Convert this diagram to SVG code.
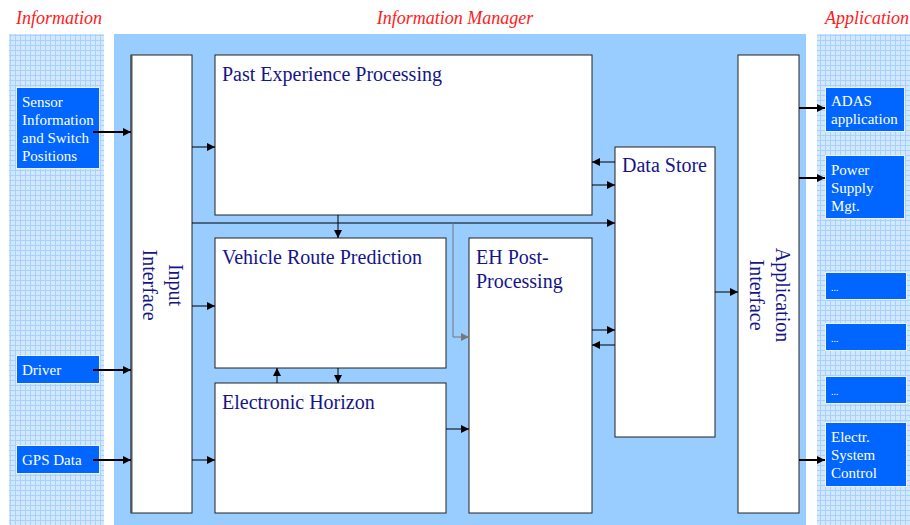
<svg xmlns="http://www.w3.org/2000/svg" width="910" height="525" viewBox="0 0 910 525">
<defs>
<pattern id="grid" width="5" height="5" patternUnits="userSpaceOnUse">
<rect width="5" height="5" fill="#d2e8ff"/>
<path d="M0 0.5H5M0.5 0V5" stroke="#a9d1ff" stroke-width="1" fill="none"/>
</pattern>
<marker id="ah" viewBox="0 0 10 10" refX="10" refY="5" markerWidth="8" markerHeight="8" markerUnits="userSpaceOnUse" orient="auto">
<path d="M0 0L10 5L0 10Z" fill="#000"/>
</marker>
<marker id="ahg" viewBox="0 0 10 10" refX="10" refY="5" markerWidth="8" markerHeight="8" markerUnits="userSpaceOnUse" orient="auto">
<path d="M0 0L10 5L0 10Z" fill="#777"/>
</marker>
</defs>
<style>
.title{font-family:"Liberation Serif",serif;font-style:italic;font-size:18px;fill:#ff1a1a}
.box{fill:#fff;stroke:#222;stroke-width:1}
.lbl{font-family:"Liberation Serif",serif;font-size:20px;fill:#15158a}
.src{fill:#0066ff;stroke:#eaf3ff;stroke-width:1}
.srct{font-family:"Liberation Serif",serif;font-size:15px;fill:#fff}
.dots{font-family:"Liberation Serif",serif;font-size:10px;fill:#fff}
.c{stroke:#000;stroke-width:1;fill:none;marker-end:url(#ah)}
.ct{stroke:#000;stroke-width:2;fill:none;marker-end:url(#ah)}
</style>
<rect width="910" height="525" fill="#fff"/>
<rect x="9" y="34" width="95" height="491" fill="url(#grid)"/>
<rect x="817" y="34" width="93" height="491" fill="url(#grid)"/>
<rect x="114" y="34" width="692" height="491" fill="#99ccff"/>
<text class="title" x="16" y="24">Information</text>
<text class="title" x="455" y="24" text-anchor="middle">Information Manager</text>
<text class="title" x="909" y="24" text-anchor="end">Application</text>

<g id="input-interface">
<rect class="box" x="131" y="55" width="61" height="458"/>
<line x1="131.5" y1="55" x2="131.5" y2="513" stroke="#555" stroke-width="2"/>
<text class="lbl" transform="translate(156 285) rotate(90)" text-anchor="middle"><tspan x="0" y="-13">Input</tspan><tspan x="0" y="13">Interface</tspan></text>
</g>
<g id="past-experience">
<rect class="box" x="215" y="55" width="377" height="160"/>
<text class="lbl" x="222" y="81">Past Experience Processing</text>
</g>
<g id="vehicle-route">
<rect class="box" x="215" y="238" width="231" height="130"/>
<text class="lbl" x="222" y="264">Vehicle Route Prediction</text>
</g>
<g id="electronic-horizon">
<rect class="box" x="215" y="383" width="231" height="130"/>
<text class="lbl" x="222" y="409">Electronic Horizon</text>
</g>
<g id="eh-post">
<rect class="box" x="469" y="238" width="123" height="275"/>
<text class="lbl" x="476" y="264">EH Post-</text>
<text class="lbl" x="476" y="288">Processing</text>
</g>
<g id="data-store">
<rect class="box" x="615" y="147" width="100" height="290"/>
<text class="lbl" x="622" y="172">Data Store</text>
</g>
<g id="application-interface">
<rect class="box" x="738" y="55" width="61" height="458"/>
<text class="lbl" transform="translate(763 295) rotate(90)" text-anchor="middle"><tspan x="0" y="-13">Application</tspan><tspan x="0" y="13">Interface</tspan></text>
</g>

<g id="sensor">
<rect class="src" x="16.5" y="87.5" width="83" height="81"/>
<text class="srct" x="22" y="107">Sensor</text>
<text class="srct" x="22" y="125">Information</text>
<text class="srct" x="22" y="143">and Switch</text>
<text class="srct" x="22" y="161">Positions</text>
</g>
<g id="driver">
<rect class="src" x="16.5" y="355.5" width="83" height="28"/>
<text class="srct" x="22" y="375">Driver</text>
</g>
<g id="gps">
<rect class="src" x="16.5" y="445.5" width="83" height="28"/>
<text class="srct" x="22" y="465">GPS Data</text>
</g>
<g id="adas">
<rect class="src" x="825.5" y="87.5" width="79" height="44"/>
<text class="srct" x="831" y="106">ADAS</text>
<text class="srct" x="831" y="124">application</text>
</g>
<g id="power">
<rect class="src" x="825.5" y="155.5" width="79" height="63"/>
<text class="srct" x="831" y="175">Power</text>
<text class="srct" x="831" y="193">Supply</text>
<text class="srct" x="831" y="211">Mgt.</text>
</g>
<g id="dots1">
<rect class="src" x="825.5" y="272.5" width="81" height="27"/>
<text class="dots" x="831" y="291">...</text>
</g>
<g id="dots2">
<rect class="src" x="825.5" y="323.5" width="81" height="27"/>
<text class="dots" x="831" y="342">...</text>
</g>
<g id="dots3">
<rect class="src" x="825.5" y="376.5" width="81" height="27"/>
<text class="dots" x="831" y="395">...</text>
</g>
<g id="electr">
<rect class="src" x="825.5" y="422.5" width="81" height="64"/>
<text class="srct" x="831" y="442">Electr.</text>
<text class="srct" x="831" y="460">System</text>
<text class="srct" x="831" y="478">Control</text>
</g>

<g id="connectors">
<path class="ct" d="M93 132H131"/>
<path class="ct" d="M93 370H131"/>
<path class="ct" d="M93 460H131"/>
<path class="ct" d="M799 108H825"/>
<path class="ct" d="M799 178H825"/>
<path class="ct" d="M799 460H825"/>
<path class="c" d="M192 147H215"/>
<path class="c" d="M192 306H215"/>
<path class="c" d="M192 460H215"/>
<path class="c" d="M192 223H615"/>
<path class="c" d="M338 215V238"/>
<path d="M453 223V337H469" stroke="#777" stroke-width="1" fill="none" marker-end="url(#ahg)"/>
<path class="c" d="M615 162H592"/>
<path class="c" d="M592 185H615"/>
<path class="c" d="M592 330H615"/>
<path class="c" d="M615 345H592"/>
<path class="c" d="M715 292H738"/>
<path class="c" d="M277 383V368"/>
<path class="c" d="M338 368V383"/>
<path class="c" d="M446 429H469"/>
</g>
</svg>
